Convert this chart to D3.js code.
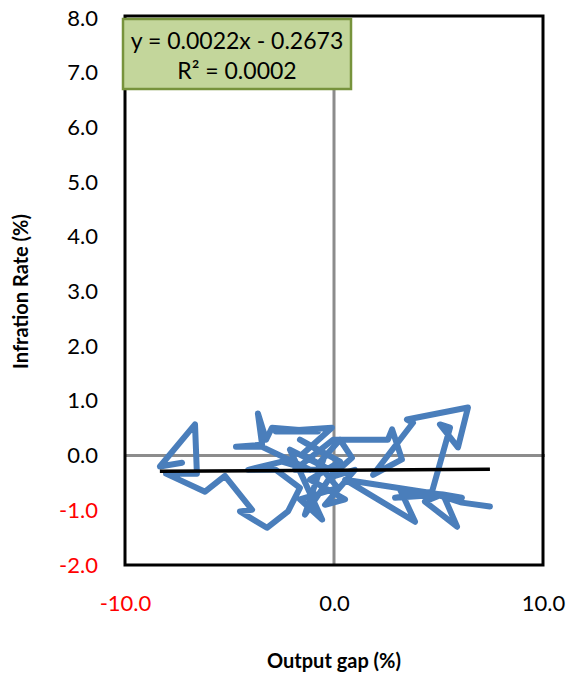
<!DOCTYPE html>
<html>
<head>
<meta charset="utf-8">
<script src="https://cdn.jsdelivr.net/npm/d3@7"></script>
<style>
  html, body { margin: 0; padding: 0; background: #fff; }
  svg { display: block; }
</style>
</head>
<body>
<svg id="chart" width="573" height="680"></svg>
<script>
// Output gap vs inflation, plotted as a connected path over time
const outputGap = [
  -7.27, -8.33, -6.65, -6.56, -8.04, -6.17, -5.22, -3.92, -4.50, -3.21,
  -2.20, -1.63, -2.78, -4.11, -2.49, -1.15, -3.44, -4.69, -3.44, -3.64,
  -3.25, -2.97, -0.77, -2.78, -0.10, -1.53, -0.19, -2.11, -0.57, -1.63,
   0.19, -0.77,  0.29,  0.86, -0.19,  1.00, -0.43,  0.53, -1.15,  0.29,
  -1.63, -0.43, -1.39,  0.05, -1.87, -0.05,  2.58,  2.78,  3.25,  1.87,
   3.78,  3.49,  6.41,  5.93,  5.07,  5.55,  4.69,  2.92,  5.17,  4.35,
   5.89,  5.22,  6.12,  0.53,  3.88,  3.16,  5.07,  6.12,  7.46
];
const inflation = [
  -0.13, -0.20,  0.57, -0.33, -0.33, -0.66, -0.37, -0.99, -1.02, -1.32,
  -1.02, -0.59, -0.26, -0.26, -0.11, -0.26,  0.16,  0.16,  0.20,  0.77,
   0.29,  0.51,  0.44,  0.44,  0.51,  0.02, -0.26,  0.11, -1.17, -0.80,
  -0.59, -0.16,  0.29, -0.04, -0.40, -0.26, -0.90, -0.80, -0.44, -0.11,
   0.29,  0.02, -1.08, -0.26, -0.26,  0.29,  0.29,  0.48, -0.07, -0.35,
   0.60,  0.66,  0.88,  0.15,  0.57,  0.51, -0.66, -0.77, -0.71, -0.84,
  -1.30, -0.71, -0.77, -0.44, -1.21, -0.62, -0.73, -0.86, -0.93
];

// Linear trend line
const trendSlope = 0.0022;
const trendIntercept = -0.2673;
const trendLabel = ["y = 0.0022x - 0.2673", "R² = 0.0002"];

const yTicks = [-2, -1, 0, 1, 2, 3, 4, 5, 6, 7, 8];
const xTicks = [-10, 0, 10];
const xTitle = "Output gap (%)";
const yTitle = "Infration Rate (%)";

const svg = d3.select("#chart");
const plotL = 125, plotR = 543, plotT = 18, plotB = 565;

const x = d3.scaleLinear().domain([-10, 10]).range([plotL, plotR]);
const y = d3.scaleLinear().domain([-2, 8]).range([plotB, plotT]);

const tickFont = "Lato, 'Open Sans', sans-serif";
const negColor = "#ff0000";
// one decimal, plain hyphen for negatives
const fmt = d => d3.format(".1f")(d).replace("\u2212", "-");

// Zero reference lines
svg.append("line")
  .attr("x1", x(0)).attr("x2", x(0))
  .attr("y1", plotT).attr("y2", plotB)
  .attr("stroke", "#8c8c8c").attr("stroke-width", 3);
svg.append("line")
  .attr("x1", plotL).attr("x2", plotR + 2)
  .attr("y1", y(0)).attr("y2", y(0))
  .attr("stroke", "#8c8c8c").attr("stroke-width", 3);

// Data path
const pts = outputGap.map((g, i) => [g, inflation[i]]);
const line = d3.line().x(d => x(d[0])).y(d => y(d[1]));
svg.append("path")
  .datum(pts)
  .attr("d", line)
  .attr("fill", "none")
  .attr("stroke", "#4a7ebb")
  .attr("stroke-width", 6)
  .attr("stroke-linejoin", "round")
  .attr("stroke-linecap", "round");

// Trend line across the observed range
const [xMin, xMax] = d3.extent(outputGap);
svg.append("line")
  .attr("x1", x(xMin)).attr("x2", x(xMax))
  .attr("y1", y(trendSlope * xMin + trendIntercept))
  .attr("y2", y(trendSlope * xMax + trendIntercept))
  .attr("stroke", "#000").attr("stroke-width", 3.5);

// Plot border
svg.append("rect")
  .attr("x", plotL).attr("y", plotT - 2)
  .attr("width", plotR - plotL).attr("height", plotB - plotT + 2)
  .attr("fill", "none").attr("stroke", "#000").attr("stroke-width", 3);

// Y axis labels
const yAxis = d3.axisLeft(y).tickValues(yTicks).tickFormat(fmt).tickSize(0).tickPadding(27);
const gy = svg.append("g").attr("transform", `translate(${plotL},0)`).call(yAxis);
gy.select(".domain").remove();
gy.selectAll("text")
  .attr("font-family", tickFont).attr("font-size", 22)
  .attr("fill", d => d < 0 ? negColor : "#000");

// X axis labels
const xAxis = d3.axisBottom(x).tickValues(xTicks).tickFormat(fmt).tickSize(0).tickPadding(30);
const gx = svg.append("g").attr("transform", `translate(0,${plotB})`).call(xAxis);
gx.select(".domain").remove();
gx.selectAll("text")
  .attr("font-family", tickFont).attr("font-size", 22)
  .attr("fill", d => d < 0 ? negColor : "#000");

// Axis titles
svg.append("text")
  .attr("x", x(0)).attr("y", 668)
  .attr("text-anchor", "middle")
  .attr("font-family", tickFont).attr("font-weight", "bold").attr("font-size", 20)
  .text(xTitle);
svg.append("text")
  .attr("transform", `translate(28,${y(3)}) rotate(-90)`)
  .attr("text-anchor", "middle")
  .attr("font-family", tickFont).attr("font-weight", "bold").attr("font-size", 20)
  .text(yTitle);

// Equation box
const box = svg.append("g").attr("transform", "translate(123,19)");
box.append("rect")
  .attr("width", 228).attr("height", 70)
  .attr("fill", "#c3d69b").attr("stroke", "#77933c").attr("stroke-width", 2.5);
box.selectAll("text.eq").data(trendLabel).join("text")
  .attr("class", "eq")
  .attr("x", 114).attr("y", (d, i) => 30 + i * 30)
  .attr("text-anchor", "middle")
  .attr("font-family", tickFont).attr("font-size", 23)
  .text(d => d);
</script>
</body>
</html>
